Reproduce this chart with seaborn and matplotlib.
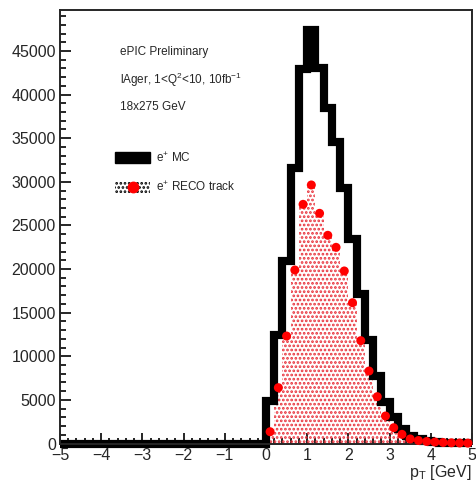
"""
ePIC preliminary: e+ pT, MC vs RECO track
"""

import numpy as np
import pandas as pd
import matplotlib
matplotlib.use("Agg")
import matplotlib.pyplot as plt
from matplotlib.patches import Patch
from matplotlib.lines import Line2D
import seaborn as sns

sns.set_style("ticks")
plt.rcParams['font.family'] = ['Liberation Sans', 'DejaVu Sans']
plt.rcParams['mathtext.fontset'] = 'custom'
plt.rcParams['mathtext.rm'] = 'Liberation Sans'
plt.rcParams['mathtext.it'] = 'Liberation Sans'
plt.rcParams['hatch.linewidth'] = 1.3

# bins of 0.2 GeV from -5 to 5, only 0..5 filled
bin_edges = list(np.linspace(-5, 5, 51))
n_empty = 25

mc_counts = [4840, 12470, 20890, 31590, 42940, 47410, 43050, 38430, 34530,
             29290, 23450, 17140, 11810, 7770, 4720, 3000, 1670, 890, 500,
             300, 180, 110, 70, 40, 25]
reco_counts = [1350, 6400, 12320, 19890, 27420, 29640, 26390, 23870, 22490,
               19780, 16140, 11790, 8310, 5370, 3150, 1810, 1050, 520, 340,
               230, 170, 115, 80, 60, 45]

info_lines = ["ePIC Preliminary",
              r"lAger, 1<Q$^{2}$<10, 10fb$^{-1}$",
              "18x275 GeV"]
legend_labels = [r"e$^{+}$ MC", r"e$^{+}$ RECO track"]

centers = [0.5 * (a + b) for a, b in zip(bin_edges[:-1], bin_edges[1:])]
df = pd.DataFrame({
    "pt": centers,
    "mc": [0] * n_empty + mc_counts,
    "reco": [0] * n_empty + reco_counts,
})
filled = df[df["pt"] > 0]

fig = plt.figure(figsize=(4.77, 4.82), dpi=100)
ax = fig.add_axes([60 / 477, (482 - 443.5) / 482, 412 / 477, 433.5 / 482])

# RECO hatched fill
sns.histplot(data=df, x="pt", weights="reco", bins=bin_edges, element="step",
             fill=True, color="#e8303a", facecolor="none",
             edgecolor="#e8303a", linewidth=0, hatch="....", ax=ax)

# MC thick line
sns.histplot(data=df, x="pt", weights="mc", bins=bin_edges, element="step",
             fill=False, color="black", linewidth=5.9,
             solid_joinstyle="miter", solid_capstyle="butt", clip_on=False,
             ax=ax)

# RECO markers
sns.scatterplot(data=filled, x="pt", y="reco", color="red", s=42,
                edgecolor="none", zorder=5, clip_on=False, ax=ax)

ax.set_xlim(-5, 5)
ax.set_ylim(0, 49700)
ax.set_xticks(np.arange(-5, 6, 1))
ax.set_xticks(np.arange(-5, 5.01, 0.2), minor=True)
ax.set_yticks(np.arange(0, 45001, 5000))
ax.set_yticks(np.arange(0, 49001, 1000), minor=True)
ax.set_xticklabels([f"{v}".replace("-", "\u2212") for v in range(-5, 6)])

ax.tick_params(axis="both", which="major", direction="in", length=8,
               width=1.4, labelsize=11.5, top=False, right=False)
ax.tick_params(axis="both", which="minor", direction="in", length=4.3,
               width=1.4, top=False, right=False)
ax.tick_params(axis="y", which="major", pad=3)
ax.tick_params(axis="x", which="major", pad=3)
for sp in ax.spines.values():
    sp.set_linewidth(1.4)

ax.set_ylabel("")
ax.set_xlabel(r"p$_{\mathrm{T}}$ [GeV]", fontsize=11.5, loc="right", labelpad=0)

for i, line in enumerate(info_lines):
    ax.text(0.146, 0.903 - i * 0.0635, line, transform=ax.transAxes,
            fontsize=8.5, va="center", ha="left")

handles = [
    Patch(facecolor="black", edgecolor="black"),
    (Patch(facecolor="white", edgecolor="black", hatch="....", linewidth=0),
     Line2D([], [], marker="o", color="red", linestyle="none", markersize=7.5)),
]
ax.legend(handles, legend_labels, loc="upper left",
          bbox_to_anchor=(0.1335, 0.675), frameon=False, fontsize=8.5,
          borderpad=0, borderaxespad=0, handlelength=3.0, handleheight=1.0,
          handletextpad=0.45, labelspacing=1.35)

fig.savefig("out.png", dpi=100)
plt.close(fig)
